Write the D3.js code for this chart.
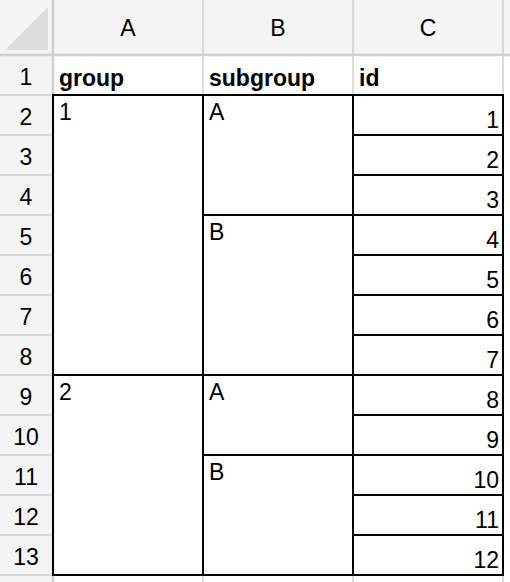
<!DOCTYPE html>
<html><head><meta charset="utf-8">
<script src="https://cdn.jsdelivr.net/npm/d3@7"></script>
<style>body{margin:0;background:#fff}text{font-family:"Liberation Sans",Arial,sans-serif}</style>
</head><body>
<svg id="sheet" width="510" height="582"></svg>
<script>
var columns = ["A", "B", "C"];
var headers = ["group", "subgroup", "id"];
var groups = [{label: "1", start: 0, end: 6}, {label: "2", start: 7, end: 11}];
var subgroups = [{label: "A", start: 0, end: 2}, {label: "B", start: 3, end: 6},
                 {label: "A", start: 7, end: 8}, {label: "B", start: 9, end: 11}];
var ids = [1, 2, 3, 4, 5, 6, 7, 8, 9, 10, 11, 12];
var rowNums = d3.range(1, 14);

var svg = d3.select("#sheet");
var x = d3.scaleBand().domain(columns).range([53, 503]);
var y = d3.scaleBand().domain(rowNums).range([55, 575]);
var cw = x.bandwidth(), rh = y.bandwidth();
var fs = 23;

// header backgrounds
svg.append("rect").attr("x", 0).attr("y", 0).attr("width", 510).attr("height", 55).attr("fill", "#f4f4f4");
svg.append("rect").attr("x", 0).attr("y", 0).attr("width", 53).attr("height", 582).attr("fill", "#f4f4f4");
svg.append("path").attr("d", "M5,50 L48,50 L48,7 Z").attr("fill", "#dcdcdc");

// light grid
var grid = svg.append("g").attr("stroke", "#cfcfcf").attr("stroke-width", 1.5);
columns.forEach(c => grid.append("line").attr("x1", x(c) + cw).attr("x2", x(c) + cw).attr("y1", 0).attr("y2", 582));
grid.append("line").attr("x1", 53).attr("x2", 53).attr("y1", 0).attr("y2", 582).attr("stroke-width", 2.5);
rowNums.forEach(r => grid.append("line").attr("x1", 0).attr("x2", 53).attr("y1", y(r) + rh).attr("y2", y(r) + rh));
grid.append("line").attr("x1", 0).attr("x2", 510).attr("y1", 55).attr("y2", 55).attr("stroke-width", 2.5);

// column / row labels
svg.selectAll(".col").data(columns).join("text")
  .attr("x", d => x(d) + cw / 2).attr("y", 36).attr("text-anchor", "middle")
  .attr("font-size", fs).text(d => d);
svg.selectAll(".row").data(rowNums).join("text")
  .attr("x", 26).attr("y", d => y(d) + 30).attr("text-anchor", "middle")
  .attr("font-size", fs).text(d => d);

// header row
svg.selectAll(".hdr").data(headers).join("text")
  .attr("x", (d, i) => x(columns[i]) + 6).attr("y", y(1) + 31)
  .attr("font-size", fs).attr("font-weight", "bold").text(d => d);

function block(data, col) {
  var g = svg.append("g");
  g.selectAll("rect").data(data).join("rect")
    .attr("x", x(col)).attr("y", d => y(d.start + 2))
    .attr("width", cw).attr("height", d => (d.end - d.start + 1) * rh)
    .attr("fill", "none").attr("stroke", "#000").attr("stroke-width", 2);
  g.selectAll("text").data(data).join("text")
    .attr("x", x(col) + 6).attr("y", d => y(d.start + 2) + 25)
    .attr("font-size", fs).text(d => d.label);
}
block(groups, "A");
block(subgroups, "B");
block(ids.map((v, i) => ({label: "", start: i, end: i})), "C");
svg.append("g").selectAll("text").data(ids).join("text")
  .attr("x", x("C") + cw - 4).attr("y", (d, i) => y(i + 2) + 33)
  .attr("text-anchor", "end").attr("font-size", fs).text(d => d);
</script>
</body></html>
